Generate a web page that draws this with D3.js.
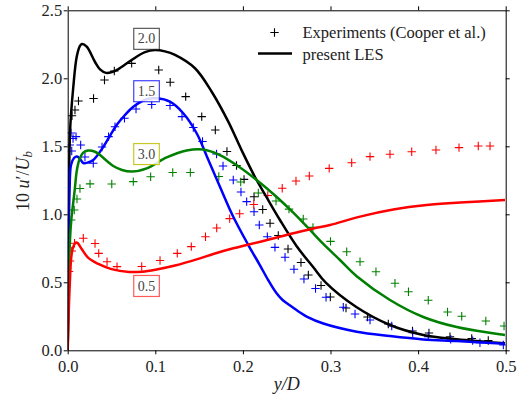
<!DOCTYPE html>
<html>
<head>
<meta charset="utf-8">
<script src="https://cdn.jsdelivr.net/npm/d3@7"></script>
<style>
  html, body { margin: 0; padding: 0; background: #fff; }
  svg { display: block; }
  text { font-family: "Liberation Serif", "DejaVu Serif", serif; fill: #222; }
</style>
</head>
<body>
<svg id="chart" width="527" height="401"></svg>
<script>
// Streamwise velocity fluctuation profiles, 10 u'/U_b against y/D,
// at four downstream stations (labels 0.5, 1.5, 2.0, 3.0).

const stations = ["0.5", "1.5", "2.0", "3.0"];

// present LES, [y/D, 10 u'/U_b]
const les05 = [[0,0],[0.0009,0.223],[0.0021,0.443],[0.0046,0.713],[0.0072,0.774],[0.0095,0.792],[0.0118,0.785],[0.016,0.745],[0.0235,0.68],[0.035,0.635],[0.05,0.597],[0.07,0.576],[0.085,0.578],[0.1,0.592],[0.1225,0.623],[0.151,0.676],[0.1662,0.708],[0.189,0.75],[0.2043,0.774],[0.2309,0.816],[0.2538,0.855],[0.2804,0.896],[0.2994,0.921],[0.3337,0.983],[0.3717,1.035],[0.4098,1.068],[0.4478,1.086],[0.4992,1.105]];
const les15 = [[0,0],[0.0007,0.74],[0.0021,1.179],[0.0038,1.363],[0.0072,1.414],[0.0106,1.425],[0.014,1.407],[0.0178,1.377],[0.0231,1.381],[0.0292,1.399],[0.0406,1.495],[0.0494,1.59],[0.0559,1.657],[0.0654,1.73],[0.0749,1.791],[0.09,1.846],[0.1015,1.853],[0.1167,1.828],[0.1319,1.743],[0.1472,1.596],[0.159,1.424],[0.1738,1.203],[0.189,0.982],[0.2062,0.774],[0.2195,0.625],[0.229,0.515],[0.2378,0.425],[0.245,0.372],[0.2538,0.33],[0.2652,0.278],[0.2728,0.248],[0.2918,0.197],[0.3299,0.137],[0.3679,0.105],[0.4059,0.08],[0.4441,0.068],[0.4992,0.048]];
const les20 = [[0,0],[0.001,0.6],[0.0026,1.598],[0.0064,1.937],[0.0103,2.158],[0.014,2.238],[0.0163,2.252],[0.0217,2.232],[0.0312,2.12],[0.0369,2.065],[0.0437,2.04],[0.0506,2.046],[0.0574,2.066],[0.073,2.135],[0.0882,2.192],[0.0996,2.208],[0.111,2.198],[0.1225,2.172],[0.1453,2.074],[0.1644,1.901],[0.1833,1.681],[0.1986,1.47],[0.2138,1.274],[0.2275,1.12],[0.2423,0.958],[0.2614,0.765],[0.2804,0.61],[0.2949,0.495],[0.3299,0.316],[0.3679,0.186],[0.4059,0.113],[0.4441,0.081],[0.4992,0.051]];
const les30 = [[0,0],[0.0009,0.443],[0.0026,0.811],[0.0041,0.958],[0.008,1.178],[0.0106,1.33],[0.014,1.414],[0.0175,1.452],[0.0232,1.469],[0.0312,1.46],[0.0369,1.436],[0.046,1.385],[0.052,1.355],[0.062,1.326],[0.073,1.314],[0.0902,1.338],[0.113,1.418],[0.1358,1.469],[0.1545,1.476],[0.1738,1.435],[0.1967,1.344],[0.2157,1.252],[0.2386,1.127],[0.2575,1.012],[0.2766,0.885],[0.2918,0.782],[0.3108,0.664],[0.3299,0.545],[0.3679,0.37],[0.4059,0.245],[0.4441,0.171],[0.4992,0.112]];

// Experiments (Cooper et al.), [y/D, 10 u'/U_b]
const exp05 = [[0.0015,0.579],[0.0026,0.657],[0.0046,0.73],[0.0078,0.787],[0.0178,0.824],[0.0312,0.785],[0.0354,0.713],[0.0449,0.651],[0.0563,0.615],[0.0845,0.616],[0.1054,0.66],[0.1251,0.713],[0.1411,0.762],[0.1573,0.835],[0.1701,0.899],[0.1849,0.968],[0.1963,1.004],[0.2124,1.072],[0.2284,1.138],[0.2449,1.191],[0.2606,1.245],[0.2758,1.282],[0.2985,1.338],[0.3242,1.379],[0.3451,1.424],[0.3679,1.441],[0.3927,1.46],[0.4204,1.473],[0.4467,1.49],[0.4687,1.502],[0.4821,1.502]];
const exp15 = [[0.0023,1.51],[0.0038,1.598],[0.0046,1.465],[0.0061,1.557],[0.0095,1.571],[0.0148,1.51],[0.0197,1.421],[0.0292,1.375],[0.0392,1.495],[0.0466,1.571],[0.054,1.644],[0.0648,1.706],[0.078,1.774],[0.0959,1.807],[0.1168,1.8],[0.1305,1.718],[0.1434,1.638],[0.1539,1.535],[0.1699,1.443],[0.1773,1.355],[0.189,1.252],[0.1978,1.164],[0.2043,1.093],[0.2127,1.019],[0.2187,0.921],[0.2279,0.835],[0.2366,0.757],[0.2481,0.684],[0.2583,0.596],[0.2697,0.524],[0.2829,0.454],[0.2949,0.39],[0.3146,0.316],[0.328,0.267],[0.3451,0.223],[0.3699,0.179],[0.3938,0.129],[0.4116,0.1],[0.4372,0.081],[0.4623,0.071],[0.4706,0.056],[0.4973,0.039]];
const exp20 = [[0.0049,1.725],[0.0083,1.767],[0.0123,1.833],[0.0295,1.851],[0.042,1.988],[0.0532,2.054],[0.073,2.11],[0.1039,2.061],[0.117,1.971],[0.1347,1.865],[0.153,1.718],[0.1685,1.62],[0.1818,1.462],[0.1927,1.359],[0.2013,1.257],[0.2127,1.129],[0.2226,1.035],[0.231,0.934],[0.2404,0.844],[0.2515,0.745],[0.2663,0.646],[0.2747,0.554],[0.2892,0.476],[0.2998,0.392],[0.3177,0.311],[0.3422,0.245],[0.366,0.193],[0.3936,0.142],[0.4124,0.127],[0.4364,0.1],[0.4612,0.087],[0.4801,0.072]];
const exp30 = [[0.004,0.958],[0.0075,1.032],[0.0106,1.113],[0.014,1.19],[0.0255,1.224],[0.0503,1.223],[0.0749,1.24],[0.0947,1.276],[0.1199,1.307],[0.14,1.307],[0.1725,1.278],[0.1975,1.238],[0.2176,1.157],[0.2378,1.098],[0.2526,1.038],[0.2689,0.965],[0.28,0.904],[0.3,0.801],[0.3185,0.725],[0.3337,0.651],[0.3519,0.578],[0.3736,0.493],[0.389,0.431],[0.4116,0.368],[0.4336,0.282],[0.4498,0.25],[0.4773,0.215],[0.4981,0.179]];

// station label anchors, [y/D, 10 u'/U_b]
const labelAt = [[0.09,0.473],[0.09,1.905],[0.09,2.29],[0.09,1.443]];

const xTicks = [0.0, 0.1, 0.2, 0.3, 0.4, 0.5];
const yTicks = [0.0, 0.5, 1.0, 1.5, 2.0, 2.5];
const legendItems = ["Experiments (Cooper et al.)", "present LES"];

const colors = { "0.5": "#ff0000", "1.5": "#0000ff", "2.0": "#000000", "3.0": "#008000" };
const boxEdge = { "0.5": "rgba(255,0,0,0.65)", "1.5": "rgba(0,0,255,0.75)", "2.0": "rgba(0,0,0,0.65)", "3.0": "rgba(191,191,0,0.85)" };

const lesByStation = { "0.5": les05, "1.5": les15, "2.0": les20, "3.0": les30 };
const expByStation = { "0.5": exp05, "1.5": exp15, "2.0": exp20, "3.0": exp30 };

const svg = d3.select("#chart");
const X0 = 67.7, X1 = 505.7, Y0 = 350.3, Y1 = 10.3;
const x = d3.scaleLinear().domain([0, 0.5]).range([X0, X1]);
const y = d3.scaleLinear().domain([0, 2.5]).range([Y0, Y1]);

svg.append("rect").attr("width", 527).attr("height", 401).attr("fill", "#fff");

svg.append("defs").append("clipPath").attr("id", "plotclip")
  .append("rect").attr("x", X0).attr("y", Y1).attr("width", X1 - X0).attr("height", Y0 - Y1);

const plot = svg.append("g").attr("clip-path", "url(#plotclip)");

// experimental points as "+" markers
const arm = 4.2;
function plus(g, px, py, color) {
  g.append("path")
    .attr("d", `M${px - arm},${py}H${px + arm}M${px},${py - arm}V${py + arm}`)
    .attr("stroke", color).attr("stroke-width", 1.1).attr("fill", "none");
}
["2.0", "1.5", "3.0", "0.5"].forEach(s => {
  const g = plot.append("g");
  expByStation[s].forEach(d => plus(g, x(d[0]), y(d[1]), colors[s]));
});

// LES profiles
const line = d3.line().x(d => x(d[0])).y(d => y(d[1])).curve(d3.curveCatmullRom.alpha(0.5));
["2.0", "1.5", "3.0", "0.5"].forEach(s => {
  plot.append("path").datum(lesByStation[s])
    .attr("d", line)
    .attr("fill", "none")
    .attr("stroke", colors[s])
    .attr("stroke-width", 2.5)
    .attr("stroke-linejoin", "round");
});

// station labels in boxes
stations.forEach((s, i) => {
  const cx = x(labelAt[i][0]), cy = y(labelAt[i][1]);
  svg.append("rect")
    .attr("x", cx - 12.8).attr("y", cy - 10.5)
    .attr("width", 25.6).attr("height", 21)
    .attr("fill", "rgba(255,255,255,0.85)")
    .attr("stroke", boxEdge[s]).attr("stroke-width", 1.2);
  svg.append("text")
    .attr("x", cx).attr("y", cy + 4.6)
    .attr("text-anchor", "middle")
    .attr("font-size", 14)
    .style("fill", "#444")
    .text(s);
});

// frame and ticks
const fmt = d3.format(".1f");
const styleAxis = g => {
  g.select(".domain").attr("stroke", "#000").attr("stroke-width", 1);
  g.selectAll(".tick line").attr("stroke", "#000").attr("stroke-width", 1);
  g.selectAll("text").attr("font-family", null).attr("font-size", null).style("font-size", "16.5px").style("fill", "#222");
};

svg.append("g").attr("transform", `translate(0,${Y0})`)
  .call(d3.axisBottom(x).tickValues(xTicks).tickFormat(fmt).tickSize(4).tickSizeOuter(0).tickPadding(5.5))
  .call(styleAxis);
svg.append("g").attr("transform", `translate(0,${Y1})`)
  .call(d3.axisTop(x).tickValues(xTicks).tickFormat("").tickSize(4).tickSizeOuter(0))
  .call(styleAxis);
svg.append("g").attr("transform", `translate(${X0},0)`)
  .call(d3.axisLeft(y).tickValues(yTicks).tickFormat(fmt).tickSize(4).tickSizeOuter(0).tickPadding(1.5))
  .call(styleAxis);
svg.append("g").attr("transform", `translate(${X1},0)`)
  .call(d3.axisRight(y).tickValues(yTicks).tickFormat("").tickSize(4).tickSizeOuter(0))
  .call(styleAxis);

// axis titles
svg.append("text")
  .attr("x", (X0 + X1) / 2).attr("y", 390)
  .attr("text-anchor", "middle").attr("font-size", 18)
  .style("font-style", "italic")
  .text("y/D");

const yl = svg.append("text")
  .attr("transform", "translate(29,181) rotate(-90)")
  .attr("text-anchor", "middle").attr("font-size", 18);
yl.append("tspan").text("10 ");
yl.append("tspan").style("font-style", "italic").text("u");
yl.append("tspan").text("′/");
yl.append("tspan").style("font-style", "italic").text("U");
yl.append("tspan").style("font-style", "italic").attr("font-size", 13).attr("dy", 3).text("b");

// legend
const lg = svg.append("g");
plus(lg, 274.5, 32.5, "#000");
lg.append("line").attr("x1", 258).attr("x2", 292).attr("y1", 53.5).attr("y2", 53.5)
  .attr("stroke", "#000").attr("stroke-width", 2.5);
legendItems.forEach((t, i) => {
  lg.append("text").attr("x", 302.5).attr("y", 37.5 + i * 22.5)
    .attr("font-size", 16.5).text(t);
});
</script>
</body>
</html>
